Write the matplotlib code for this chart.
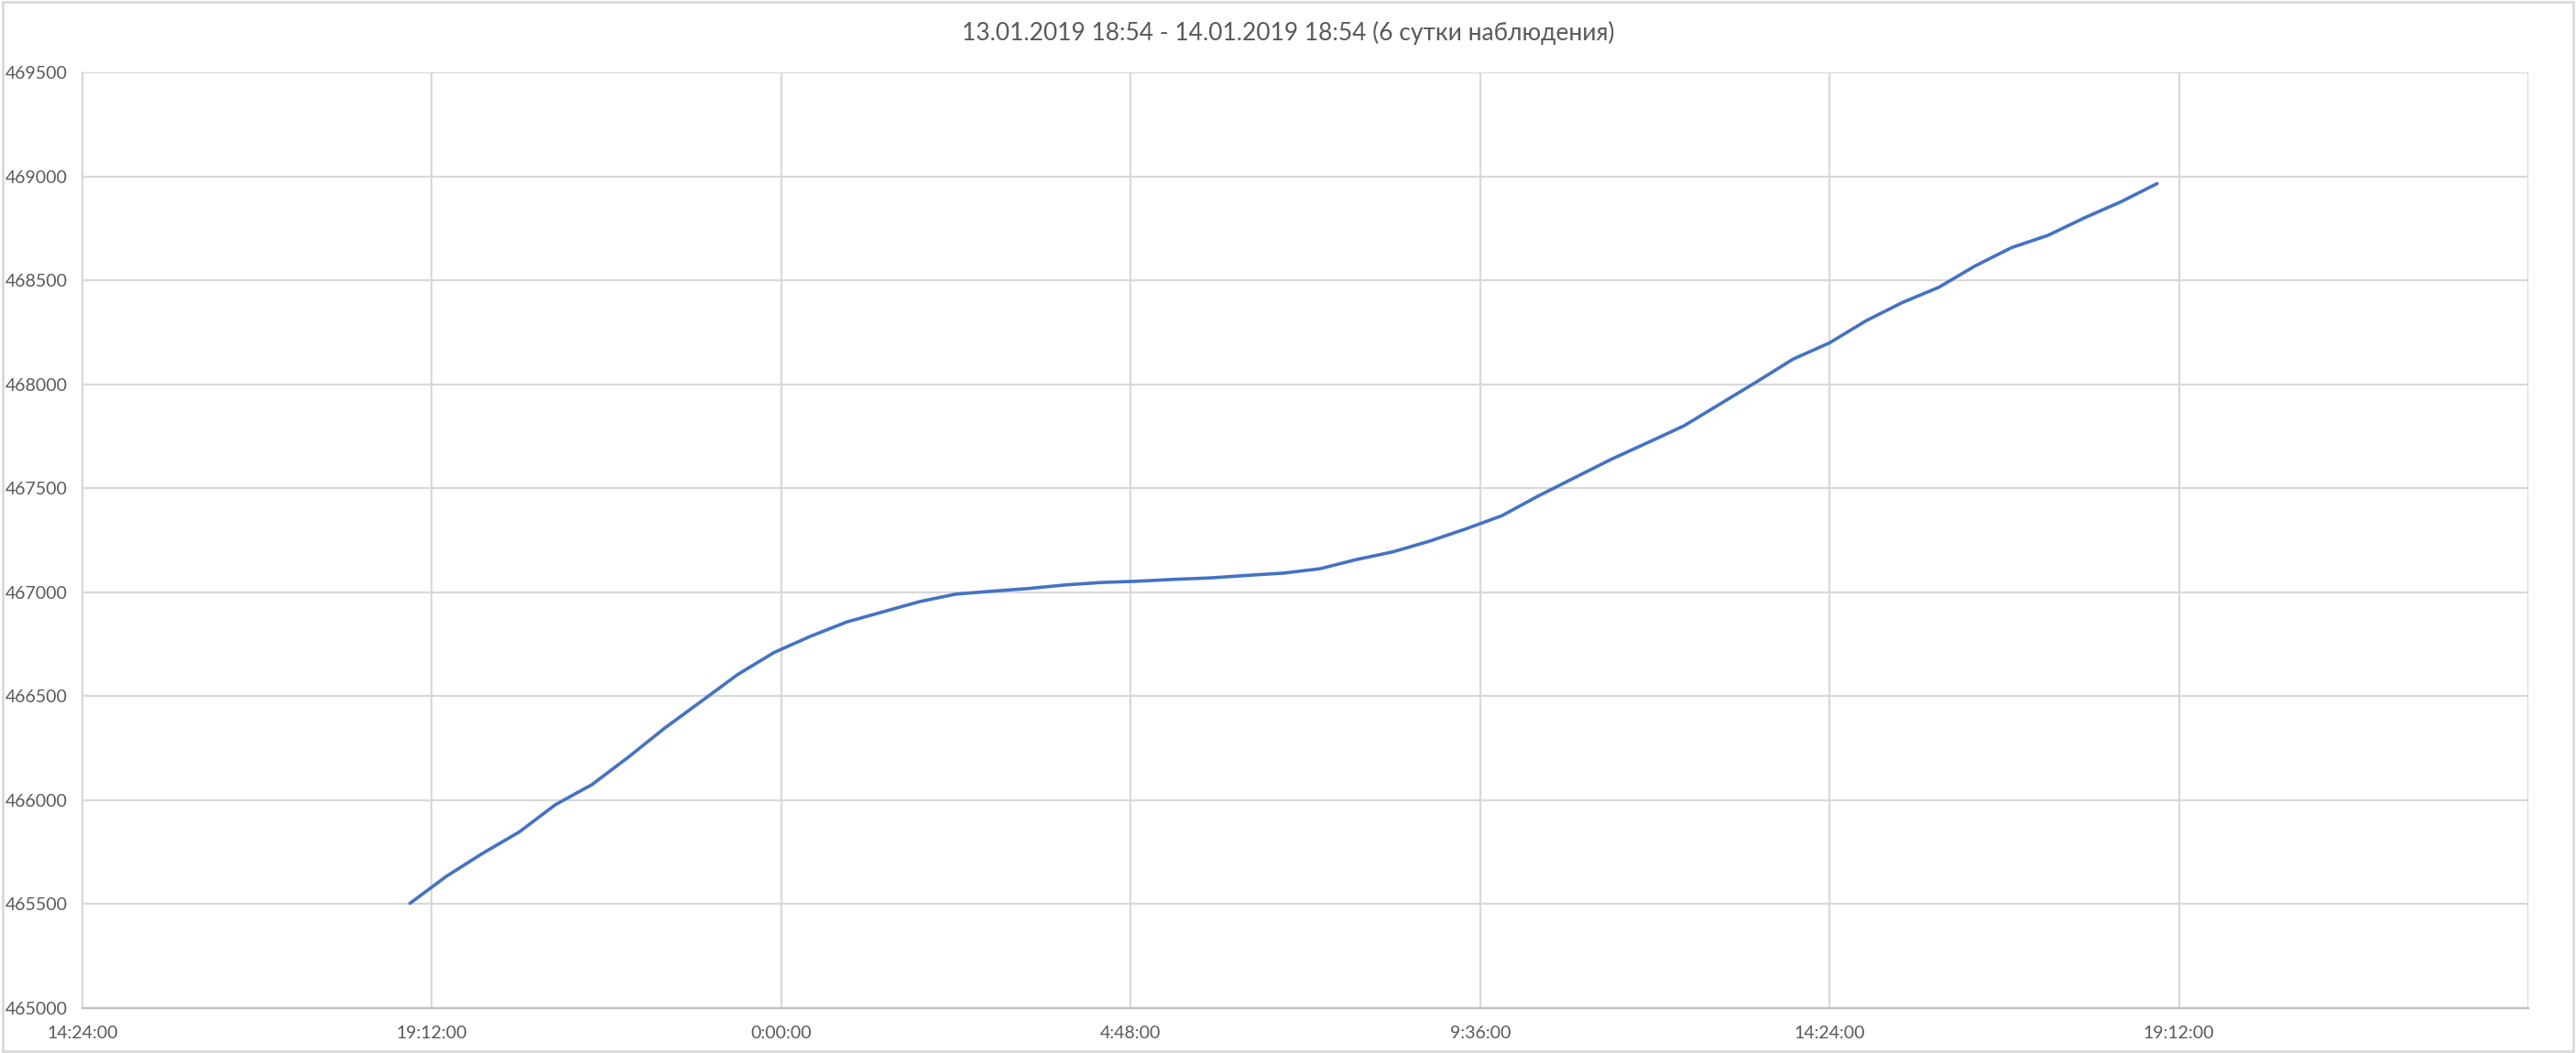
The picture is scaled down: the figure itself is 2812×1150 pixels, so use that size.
import matplotlib
matplotlib.use('Agg')
import matplotlib.pyplot as plt
import matplotlib.dates as mdates
from matplotlib.patches import Rectangle
import pandas as pd

# показания счётчика, каждые 30 минут
times = ['2019-01-13 18:54', '2019-01-13 19:24', '2019-01-13 19:54', '2019-01-13 20:24',
         '2019-01-13 20:54', '2019-01-13 21:24', '2019-01-13 21:54', '2019-01-13 22:24',
         '2019-01-13 22:54', '2019-01-13 23:24', '2019-01-13 23:54', '2019-01-14 00:24',
         '2019-01-14 00:54', '2019-01-14 01:24', '2019-01-14 01:54', '2019-01-14 02:24',
         '2019-01-14 02:54', '2019-01-14 03:24', '2019-01-14 03:54', '2019-01-14 04:24',
         '2019-01-14 04:54', '2019-01-14 05:24', '2019-01-14 05:54', '2019-01-14 06:24',
         '2019-01-14 06:54', '2019-01-14 07:24', '2019-01-14 07:54', '2019-01-14 08:24',
         '2019-01-14 08:54', '2019-01-14 09:24', '2019-01-14 09:54', '2019-01-14 10:24',
         '2019-01-14 10:54', '2019-01-14 11:24', '2019-01-14 11:54', '2019-01-14 12:24',
         '2019-01-14 12:54', '2019-01-14 13:24', '2019-01-14 13:54', '2019-01-14 14:24',
         '2019-01-14 14:54', '2019-01-14 15:24', '2019-01-14 15:54', '2019-01-14 16:24',
         '2019-01-14 16:54', '2019-01-14 17:24', '2019-01-14 17:54', '2019-01-14 18:24',
         '2019-01-14 18:54']
values = [465504, 465634, 465745, 465847, 465979, 466075, 466207, 466347,
          466475, 466604, 466710, 466788, 466857, 466906, 466955, 466991,
          467005, 467018, 467035, 467047, 467053, 467062, 467069, 467081,
          467092, 467113, 467157, 467194, 467245, 467304, 467368, 467463,
          467551, 467639, 467719, 467800, 467906, 468012, 468121, 468199,
          468305, 468393, 468466, 468569, 468657, 468716, 468800, 468877,
          468965]

title = '13.01.2019 18:54 - 14.01.2019 18:54 (6 сутки наблюдения)'
x_start = '2019-01-13 14:24'
x_end = '2019-01-15 00:00'
y_min, y_max, y_step = 465000, 469500, 500

plt.rcParams['font.family'] = ['Lato', 'Noto Sans', 'DejaVu Sans']
text_color = '#595959'
grid_color = '#D9D9D9'

fig = plt.figure(figsize=(28.12, 11.5), dpi=100)
ax = fig.add_axes([0.032, 0.0426, 0.9495, 0.8887])

t = mdates.date2num(pd.to_datetime(times))
ax.plot(t, values, color='#4472C4', linewidth=2.6, solid_capstyle='round',
        solid_joinstyle='round')

x0 = mdates.date2num(pd.Timestamp(x_start))
x1 = mdates.date2num(pd.Timestamp(x_end))
ax.set_xlim(x0, x1)
ax.set_ylim(y_min, y_max)

ticks = mdates.date2num(pd.date_range(x_start, x_end, freq='288min'))
ax.set_xticks(ticks)


def fmt_time(v, pos):
    if v >= x1 - 1e-6:
        return ''
    d = mdates.num2date(v)
    return f'{d.hour}:{d.minute:02d}:{d.second:02d}'


ax.xaxis.set_major_formatter(plt.FuncFormatter(fmt_time))
ax.set_yticks(range(y_min, y_max + 1, y_step))

ax.grid(True, color=grid_color, linewidth=1.6)
ax.set_axisbelow(True)
ax.tick_params(length=0, labelsize=14, colors=text_color)
ax.tick_params(axis='y', pad=12)
ax.tick_params(axis='x', pad=14)

for side in ['top', 'right']:
    ax.spines[side].set_visible(False)
ax.spines['left'].set_color(grid_color)
ax.spines['left'].set_linewidth(1.6)
ax.spines['bottom'].set_color('#BFBFBF')
ax.spines['bottom'].set_linewidth(1.6)

fig.text(0.5, 0.969, title, ha='center', va='center', fontsize=19, color=text_color)

# рамка вокруг диаграммы
fig.patches.append(Rectangle((0.001, 0.002), 0.998, 0.996, transform=fig.transFigure,
                             fill=False, edgecolor=grid_color, linewidth=2))

fig.savefig('out.png', dpi=100, facecolor='white')
plt.close(fig)
